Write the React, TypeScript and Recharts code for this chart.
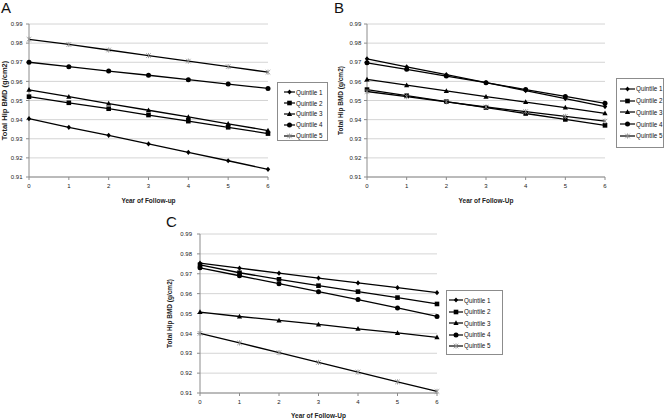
import React from 'react';
import { LineChart, Line, XAxis, YAxis, CartesianGrid, Legend, Label } from 'recharts';

const years = [0, 1, 2, 3, 4, 5, 6];
const quintiles = ['Quintile 1', 'Quintile 2', 'Quintile 3', 'Quintile 4', 'Quintile 5'];
const yTicks = [0.91, 0.92, 0.93, 0.94, 0.95, 0.96, 0.97, 0.98, 0.99];

// Panel A
const aQ1 = [0.9405, 0.936, 0.9318, 0.9273, 0.9229, 0.9185, 0.914];
const aQ2 = [0.952, 0.9488, 0.9457, 0.9424, 0.9392, 0.936, 0.9327];
const aQ3 = [0.9556, 0.952, 0.9484, 0.9449, 0.9414, 0.9378, 0.9343];
const aQ4 = [0.97, 0.9677, 0.9654, 0.9632, 0.9609, 0.9586, 0.9563];
const aQ5 = [0.982, 0.9793, 0.9764, 0.9735, 0.9706, 0.9677, 0.9648];

// Panel B
const bQ1 = [0.9718, 0.9676, 0.9635, 0.9593, 0.9552, 0.951, 0.9468];
const bQ2 = [0.9557, 0.9525, 0.9494, 0.9463, 0.9432, 0.9401, 0.937];
const bQ3 = [0.961, 0.958, 0.955, 0.952, 0.9492, 0.9463, 0.9433];
const bQ4 = [0.9697, 0.9663, 0.9628, 0.9593, 0.9557, 0.9521, 0.9485];
const bQ5 = [0.9547, 0.952, 0.9493, 0.9466, 0.9442, 0.9417, 0.9392];

// Panel C
const cQ1 = [0.9753, 0.9728, 0.9703, 0.9678, 0.9654, 0.963, 0.9605];
const cQ2 = [0.9745, 0.9705, 0.9672, 0.964, 0.961, 0.958, 0.9548];
const cQ3 = [0.9507, 0.9485, 0.9465, 0.9445, 0.9423, 0.9402, 0.938];
const cQ4 = [0.973, 0.969, 0.965, 0.961, 0.957, 0.9528, 0.9485];
const cQ5 = [0.94, 0.9352, 0.9303, 0.9254, 0.9205, 0.9156, 0.9108];

type Marker = 'diamond' | 'square' | 'triangle' | 'circle' | 'star';
const markers: Marker[] = ['diamond', 'square', 'triangle', 'circle', 'star'];
const keys = ['q1', 'q2', 'q3', 'q4', 'q5'];

const drawMarker = (shape: Marker, cx: number, cy: number, key?: string) => {
  switch (shape) {
    case 'diamond':
      return <polygon key={key} points={`${cx},${cy - 2.6} ${cx + 2.2},${cy} ${cx},${cy + 2.6} ${cx - 2.2},${cy}`} fill="#000" />;
    case 'square':
      return <rect key={key} x={cx - 2.3} y={cy - 2.3} width={4.6} height={4.6} fill="#000" />;
    case 'triangle':
      return <polygon key={key} points={`${cx},${cy - 2.8} ${cx + 2.6},${cy + 2} ${cx - 2.6},${cy + 2}`} fill="#000" />;
    case 'circle':
      return <circle key={key} cx={cx} cy={cy} r={2.5} fill="#000" />;
    default:
      return (
        <g key={key} stroke="#8a8a8a" strokeWidth={0.8}>
          <line x1={cx - 2.3} y1={cy - 2.3} x2={cx + 2.3} y2={cy + 2.3} />
          <line x1={cx - 2.3} y1={cy + 2.3} x2={cx + 2.3} y2={cy - 2.3} />
          <line x1={cx} y1={cy - 2.6} x2={cx} y2={cy + 2.6} />
        </g>
      );
  }
};

interface Box {
  left: number;
  top: number;
  width: number;
  height: number;
}

interface PanelProps {
  title: string;
  series: number[][];
  xLabel: string;
  pos: Box;
  plot: { top: number; right: number; yWidth: number; xHeight: number };
  tickMargin: number;
  yLabelOffset: number;
  yLabelSize: number;
  xLabelOffset: number;
  legend: Box & { fontSize: number; rowGap: number; firstRow: number; pad: number; lineLen: number };
  titlePos: { x: number; y: number };
}

const Panel: React.FC<PanelProps> = ({
  title, series, xLabel, pos, plot, tickMargin, yLabelOffset, yLabelSize, xLabelOffset, legend, titlePos,
}) => {
  const data = years.map((year, i) => {
    const row: Record<string, number> = { year };
    series.forEach((s, k) => {
      row[keys[k]] = s[i];
    });
    return row;
  });

  const renderLegend = () => (
    <div
      style={{
        width: legend.width,
        height: legend.height,
        boxSizing: 'border-box',
        border: '1px solid #8c8c8c',
        background: '#fff',
        position: 'relative',
      }}
    >
      {quintiles.map((q, k) => (
        <div
          key={q}
          style={{
            position: 'absolute',
            left: legend.pad,
            top: legend.firstRow + k * legend.rowGap - 5,
            height: 10,
            display: 'flex',
            alignItems: 'center',
            fontSize: legend.fontSize,
            color: '#111',
            whiteSpace: 'nowrap',
          }}
        >
          <svg width={legend.lineLen} height={8} style={{ marginRight: 1 }}>
            <line x1={0} y1={4} x2={legend.lineLen} y2={4} stroke="#000" strokeWidth={1.2} />
            {drawMarker(markers[k], legend.lineLen / 2, 4)}
          </svg>
          {q}
        </div>
      ))}
    </div>
  );

  return (
    <div style={{ position: 'absolute', left: pos.left, top: pos.top, width: pos.width, height: pos.height }}>
      <div style={{ position: 'absolute', left: titlePos.x, top: titlePos.y, fontSize: 15, lineHeight: '15px', color: '#111' }}>
        {title}
      </div>
      <LineChart
        width={pos.width}
        height={pos.height}
        data={data}
        margin={{ top: plot.top, right: plot.right, bottom: 0, left: 0 }}
      >
        <CartesianGrid vertical={false} stroke="#c9c9c9" strokeWidth={0.8} />
        <XAxis
          dataKey="year"
          type="number"
          domain={[0, 6]}
          ticks={years}
          height={plot.xHeight}
          stroke="#8c8c8c"
          tickSize={3}
          tickMargin={4}
          tick={{ fontSize: 6, fill: '#222' }}
        >
          <Label value={xLabel} position="insideBottom" offset={xLabelOffset} style={{ fontSize: 6.5, fontWeight: 'bold', fill: '#222' }} />
        </XAxis>
        <YAxis
          type="number"
          domain={[0.91, 0.99]}
          ticks={yTicks}
          width={plot.yWidth}
          stroke="#8c8c8c"
          tickSize={3}
          tickMargin={tickMargin}
          tickFormatter={(v: number) => v.toFixed(2)}
          tick={{ fontSize: 6, fill: '#222' }}
          interval={0}
        >
          <Label
            value="Total Hip BMD (g/cm2)"
            angle={-90}
            position="insideLeft"
            offset={yLabelOffset}
            style={{ fontSize: yLabelSize, fontWeight: 'bold', fill: '#222', textAnchor: 'middle' }}
          />
        </YAxis>
        {keys.map((k, idx) => (
          <Line
            key={k}
            dataKey={k}
            name={quintiles[idx]}
            stroke="#000"
            strokeWidth={1.3}
            isAnimationActive={false}
            dot={(p: any) => drawMarker(markers[idx], p.cx, p.cy, `${k}-${p.index}`)}
          />
        ))}
        <Legend
          layout="vertical"
          align="center"
          verticalAlign="middle"
          content={renderLegend}
          wrapperStyle={{ left: legend.left, top: legend.top, width: legend.width, height: legend.height }}
        />
      </LineChart>
    </div>
  );
};

export default function App() {
  return (
    <div
      style={{
        position: 'absolute',
        left: 0,
        top: 0,
        width: 664,
        height: 420,
        background: '#fff',
        fontFamily: '"Liberation Sans", Arial, sans-serif',
        overflow: 'hidden',
      }}
    >
      <Panel
        title="A"
        series={[aQ1, aQ2, aQ3, aQ4, aQ5]}
        xLabel="Year of Follow-up"
        pos={{ left: 0, top: 0, width: 332, height: 210 }}
        plot={{ top: 24, right: 64, yWidth: 29, xHeight: 33 }}
        tickMargin={3.5}
        yLabelOffset={4}
        yLabelSize={7.5}
        xLabelOffset={7.5}
        legend={{ left: 277, top: 82, width: 51, height: 59, fontSize: 6.3, rowGap: 10.8, firstRow: 9.3, pad: 6, lineLen: 11 }}
        titlePos={{ x: 1, y: 0 }}
      />
      <Panel
        title="B"
        series={[bQ1, bQ2, bQ3, bQ4, bQ5]}
        xLabel="Year of Follow-Up"
        pos={{ left: 332, top: 0, width: 332, height: 210 }}
        plot={{ top: 24, right: 59, yWidth: 35, xHeight: 33 }}
        tickMargin={2.7}
        yLabelOffset={9}
        yLabelSize={6.5}
        xLabelOffset={7.5}
        legend={{ left: 284, top: 78, width: 48, height: 70, fontSize: 6.3, rowGap: 11.8, firstRow: 9.7, pad: 3, lineLen: 15 }}
        titlePos={{ x: 2, y: 0 }}
      />
      <Panel
        title="C"
        series={[cQ1, cQ2, cQ3, cQ4, cQ5]}
        xLabel="Year of Follow-Up"
        pos={{ left: 160, top: 205, width: 345, height: 215 }}
        plot={{ top: 29, right: 68, yWidth: 40, xHeight: 27 }}
        tickMargin={5}
        yLabelOffset={10}
        yLabelSize={6.5}
        xLabelOffset={2}
        legend={{ left: 286, top: 85, width: 57, height: 65, fontSize: 6.3, rowGap: 11.4, firstRow: 9.3, pad: 2, lineLen: 14 }}
        titlePos={{ x: 6, y: 9 }}
      />
    </div>
  );
}
